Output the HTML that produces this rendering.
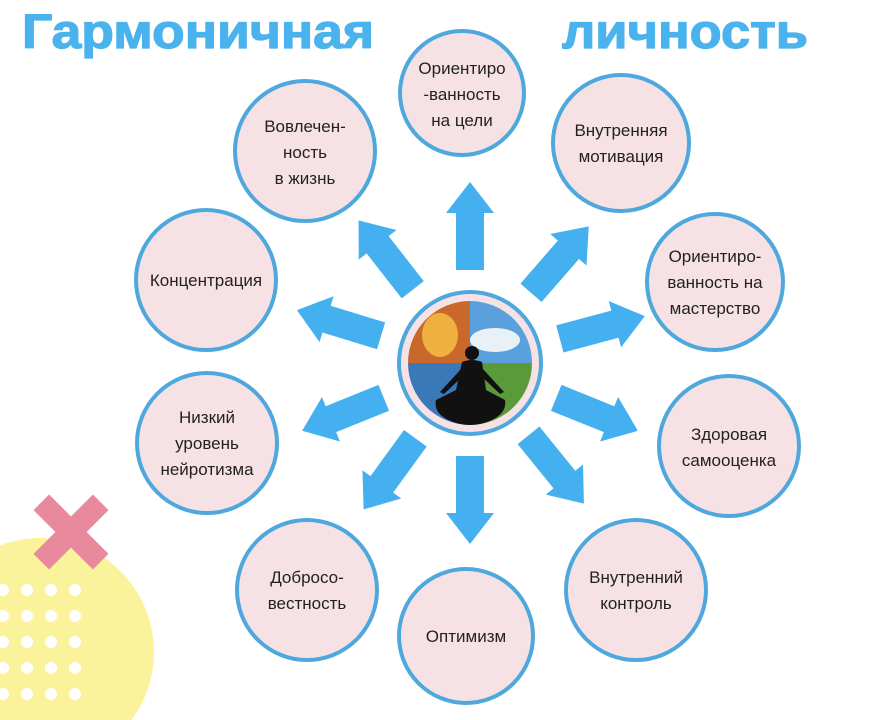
<!DOCTYPE html>
<html><head><meta charset="utf-8"><style>
html,body{margin:0;background:#fff;width:869px;height:720px;overflow:hidden}
svg{display:block}
text{font-family:"Liberation Sans",sans-serif}
.t{font-size:17px;fill:#222;text-anchor:middle}
</style></head><body>
<svg width="869" height="720" viewBox="0 0 869 720">
<circle cx="40" cy="652" r="114" fill="#fbf39c"/>
<g fill="#fff">
<g id="r"><circle cx="3" cy="590" r="6"/><circle cx="27" cy="590" r="6"/><circle cx="51" cy="590" r="6"/><circle cx="75" cy="590" r="6"/></g>
<use href="#r" y="26"/><use href="#r" y="52"/><use href="#r" y="78"/><use href="#r" y="104"/>
</g>
<g transform="translate(71,532) rotate(45)" fill="#e8899d">
<rect x="-42" y="-11" width="84" height="22"/><rect x="-11" y="-42" width="22" height="84"/>
</g>
<text x="22" y="48" font-size="48" font-weight="bold" fill="#4ab2ec" stroke="#4ab2ec" stroke-width="1.2" textLength="352" lengthAdjust="spacingAndGlyphs">Гармоничная</text>
<text x="562" y="48" font-size="48" font-weight="bold" fill="#4ab2ec" stroke="#4ab2ec" stroke-width="1.2" textLength="246" lengthAdjust="spacingAndGlyphs">личность</text>
<g fill="#45b0f0">
<g transform="translate(470,363) rotate(-90)"><polygon id="a" points="93,-14 150,-14 150,-24 181,0 150,24 150,14 93,14"/></g>
<g transform="translate(470,363) rotate(-128)"><use href="#a"/></g>
<g transform="translate(470,363) rotate(-49)"><use href="#a"/></g>
<g transform="translate(470,363) rotate(-163)"><use href="#a"/></g>
<g transform="translate(470,363) rotate(-15)"><use href="#a"/></g>
<g transform="translate(470,363) rotate(158)"><use href="#a"/></g>
<g transform="translate(470,363) rotate(22)"><use href="#a"/></g>
<g transform="translate(470,363) rotate(126)"><use href="#a"/></g>
<g transform="translate(470,363) rotate(51)"><use href="#a"/></g>
<g transform="translate(470,363) rotate(90)"><use href="#a"/></g>
</g>
<g fill="#f6e2e5" stroke="#4ea8de" stroke-width="4">
<circle cx="462" cy="93" r="62"/>
<circle cx="305" cy="151" r="70"/>
<circle cx="621" cy="143" r="68"/>
<circle cx="206" cy="280" r="70"/>
<circle cx="715" cy="282" r="68"/>
<circle cx="207" cy="443" r="70"/>
<circle cx="729" cy="446" r="70"/>
<circle cx="307" cy="590" r="70"/>
<circle cx="636" cy="590" r="70"/>
<circle cx="466" cy="636" r="67"/>
<circle cx="470" cy="363" r="71"/>
</g>
<clipPath id="c"><circle cx="470" cy="363" r="62"/></clipPath>
<g clip-path="url(#c)">
<rect x="405" y="298" width="65" height="65" fill="#c8682a"/>
<rect x="470" y="298" width="70" height="65" fill="#5aa0dc"/>
<rect x="405" y="363" width="65" height="70" fill="#3a78b8"/>
<rect x="470" y="363" width="70" height="70" fill="#5a9a3a"/>
<ellipse cx="440" cy="335" rx="18" ry="22" fill="#f0b040"/>
<ellipse cx="495" cy="340" rx="25" ry="12" fill="#e8f0f8"/>
<g fill="#111">
<circle cx="472" cy="353" r="7"/>
<path d="M462 362 Q472 358 482 362 L486 390 L505 400 Q508 420 470 426 Q432 420 436 400 L456 390Z"/>
<path d="M462 368 L440 392 L444 394 L464 375Z M482 368 L504 392 L500 394 L480 375Z"/>
</g>
</g>
<g class="t">
<text x="462" y="74">Ориентиро</text><text x="462" y="100">-ванность</text><text x="462" y="126">на цели</text>
<text x="305" y="132">Вовлечен-</text><text x="305" y="158">ность</text><text x="305" y="184">в жизнь</text>
<text x="621" y="136">Внутренняя</text><text x="621" y="162">мотивация</text>
<text x="206" y="286">Концентрация</text>
<text x="715" y="262">Ориентиро-</text><text x="715" y="288">ванность на</text><text x="715" y="314">мастерство</text>
<text x="207" y="423">Низкий</text><text x="207" y="449">уровень</text><text x="207" y="475">нейротизма</text>
<text x="729" y="440">Здоровая</text><text x="729" y="466">самооценка</text>
<text x="307" y="583">Добросо-</text><text x="307" y="609">вестность</text>
<text x="636" y="583">Внутренний</text><text x="636" y="609">контроль</text>
<text x="466" y="642">Оптимизм</text>
</g>
</svg>
</body></html>
